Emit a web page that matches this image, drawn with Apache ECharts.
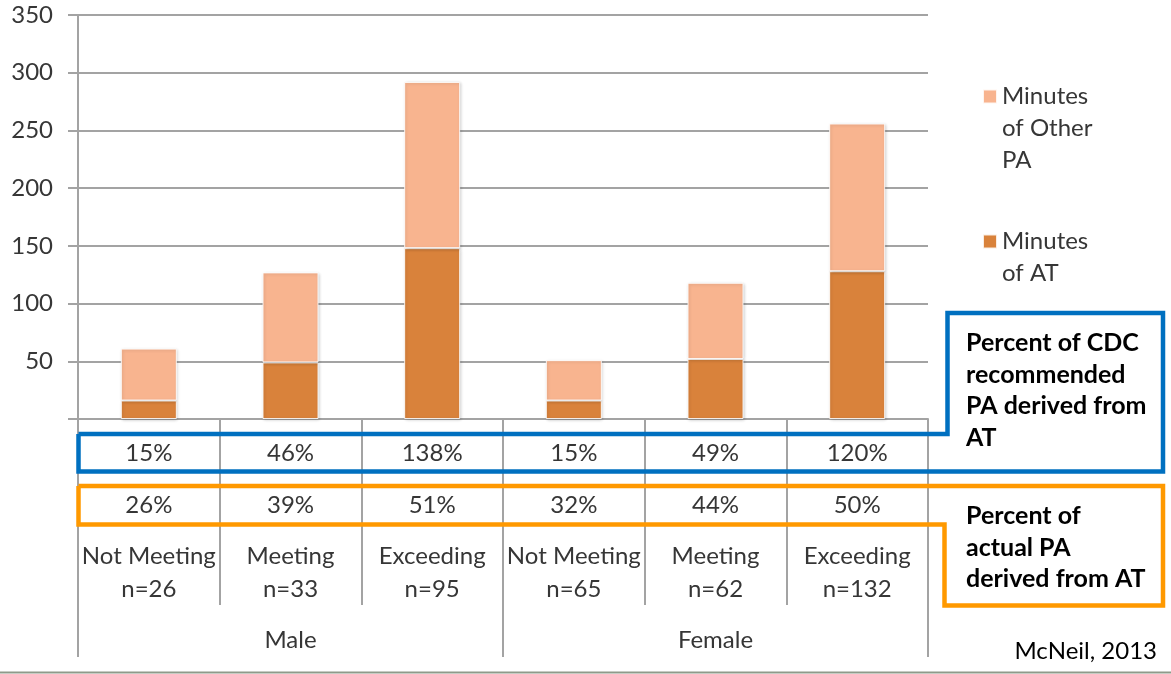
<!DOCTYPE html>
<html>
<head>
<meta charset="utf-8">
<script src="https://cdn.jsdelivr.net/npm/echarts@6/dist/echarts.min.js"></script>
<style>
  html, body { margin: 0; padding: 0; background: #ffffff; }
  #chart { width: 1171px; height: 674px; }
</style>
</head>
<body>
<div id="chart"></div>
<script>
// ---- Data ----
const categories = ['Not Meeting', 'Meeting', 'Exceeding', 'Not Meeting', 'Meeting', 'Exceeding'];
const sampleSizes = ['n=26', 'n=33', 'n=95', 'n=65', 'n=62', 'n=132'];
const groups = ['Male', 'Female'];
const minutesAT = [16, 49, 148, 16, 52, 128];
const minutesOtherPA = [45, 78, 144, 35, 66, 128];
const pctCdcFromAT = ['15%', '46%', '138%', '15%', '49%', '120%'];
const pctActualFromAT = ['26%', '39%', '51%', '32%', '44%', '50%'];
const yTicks = [0, 50, 100, 150, 200, 250, 300, 350];
const seriesNames = ['Minutes of AT', 'Minutes of Other PA'];
const legendLines = { 'Minutes of Other PA': ['Minutes', 'of Other', 'PA'], 'Minutes of AT': ['Minutes', 'of AT'] };
const boxNotes = ['Percent of CDC\nrecommended\nPA derived from\nAT', 'Percent of\nactual PA\nderived from AT'];
const sourceNote = 'McNeil, 2013';

// ---- Styles ----
const FONT = 'Lato';
const TXT = '#363636';
const GRID = '#a3a3a3';
const C_AT = '#D9823B';
const C_OTHER = '#F8B48F';

const chart = echarts.init(document.getElementById('chart'), null, { renderer: 'canvas' });

const catIdx = categories.map((c, i) => i);
const baseXAxis = {
  type: 'category',
  position: 'bottom',
  gridIndex: 0,
  data: catIdx,
  boundaryGap: true,
  axisLine: { show: false },
  axisTick: { show: false },
  splitLine: { show: false },
  axisPointer: { show: false }
};
const labelBase = { interval: 0, fontFamily: FONT, fontSize: 24, color: TXT, lineHeight: 30 };
const legendText = { fontFamily: FONT, fontSize: 24, lineHeight: 32, color: TXT };
const legendFormatter = n => legendLines[n].map(l => '{t|' + l + '}').join('\n');

const option = {
  animation: false,
  backgroundColor: '#ffffff',
  grid: { left: 78, right: 243, top: 15, bottom: 255, outerBoundsMode: 'none', containLabel: false },
  legend: [
    {
      orient: 'vertical', left: 982, top: 16.5, padding: 0,
      icon: 'rect', itemWidth: 14, itemHeight: 14,
      selectedMode: false,
      data: [seriesNames[1]],
      formatter: legendFormatter,
      textStyle: Object.assign({}, legendText, { padding: [64, 0, 0, 0], rich: { t: legendText } })
    },
    {
      orient: 'vertical', left: 982, top: 193.5, padding: 0,
      icon: 'rect', itemWidth: 14, itemHeight: 14,
      selectedMode: false,
      data: [seriesNames[0]],
      formatter: legendFormatter,
      textStyle: Object.assign({}, legendText, { padding: [32, 0, 0, 0], rich: { t: legendText } })
    }
  ],
  xAxis: [
    Object.assign({}, baseXAxis, {
      axisLine: { show: true, lineStyle: { color: GRID, width: 2 } },
      axisTick: { show: true, interval: 0, length: 186, lineStyle: { color: GRID, width: 2 } },
      axisLabel: Object.assign({}, labelBase, { margin: 19, formatter: (v, i) => pctCdcFromAT[i] })
    }),
    Object.assign({}, baseXAxis, {
      axisLabel: Object.assign({}, labelBase, { margin: 71, formatter: (v, i) => pctActualFromAT[i] })
    }),
    Object.assign({}, baseXAxis, {
      axisLabel: Object.assign({}, labelBase, { margin: 121, lineHeight: 33, formatter: (v, i) => categories[i] + '\n' + sampleSizes[i] })
    }),
    Object.assign({}, baseXAxis, {
      data: groups,
      axisTick: { show: true, interval: 0, length: 238, lineStyle: { color: GRID, width: 2 } },
      axisLabel: Object.assign({}, labelBase, { margin: 206 })
    })
  ],
  yAxis: {
    type: 'value',
    min: yTicks[0],
    max: yTicks[yTicks.length - 1],
    interval: yTicks[1] - yTicks[0],
    axisLine: { show: true, lineStyle: { color: GRID, width: 2 } },
    axisTick: { show: true, length: 10, lineStyle: { color: GRID, width: 2 } },
    splitLine: { show: true, lineStyle: { color: GRID, width: 2 } },
    axisLabel: {
      margin: 25, fontFamily: FONT, fontSize: 24, color: TXT,
      formatter: v => (v === 0 ? '' : String(v))
    }
  },
  series: [
    {
      name: seriesNames[0], type: 'bar', stack: 'total', xAxisIndex: 0, barWidth: 56,
      data: minutesAT,
      itemStyle: { color: C_AT, borderColor: 'rgba(255,255,255,0.85)', borderWidth: 1,
        shadowColor: 'rgba(0,0,0,0.18)', shadowBlur: 3, shadowOffsetX: 1, shadowOffsetY: 1 }
    },
    {
      name: seriesNames[1], type: 'bar', stack: 'total', xAxisIndex: 0, barWidth: 56,
      data: minutesOtherPA,
      itemStyle: { color: C_OTHER, borderColor: 'rgba(255,255,255,0.85)', borderWidth: 1,
        shadowColor: 'rgba(0,0,0,0.18)', shadowBlur: 3, shadowOffsetX: 1, shadowOffsetY: 1 }
    }
  ],
  graphic: [
    {
      type: 'polyline', silent: true, z: 10,
      shape: { points: [[78.5, 434], [947.5, 434], [947.5, 313], [1163, 313], [1163, 471.5], [78.5, 471.5], [78.5, 434]] },
      style: { stroke: '#0070C0', lineWidth: 4.5, fill: null, lineJoin: 'miter' }
    },
    {
      type: 'polyline', silent: true, z: 10,
      shape: { points: [[78.5, 486], [1163, 486], [1163, 605.5], [944.5, 605.5], [944.5, 524.5], [78.5, 524.5], [78.5, 486]] },
      style: { stroke: '#FF9900', lineWidth: 4.5, fill: null, lineJoin: 'miter' }
    },
    {
      type: 'text', silent: true, z: 11, x: 966, y: 327,
      style: { text: boxNotes[0], fontFamily: FONT, fontWeight: 'bold', fontSize: 25, lineHeight: 31.7, fill: '#000', verticalAlign: 'top' }
    },
    {
      type: 'text', silent: true, z: 11, x: 966, y: 500,
      style: { text: boxNotes[1], fontFamily: FONT, fontWeight: 'bold', fontSize: 25, lineHeight: 31.7, fill: '#000', verticalAlign: 'top' }
    },
    {
      type: 'text', silent: true, z: 11, x: 1157, y: 651,
      style: { text: sourceNote, fontFamily: FONT, fontSize: 24, fill: '#000', align: 'right', verticalAlign: 'middle' }
    },
    {
      type: 'line', silent: true, z: 11,
      shape: { x1: 0, y1: 672.5, x2: 1171, y2: 672.5 },
      style: { stroke: '#8f9a8a', lineWidth: 2 }
    }
  ]
};

chart.setOption(option);
</script>
</body>
</html>
